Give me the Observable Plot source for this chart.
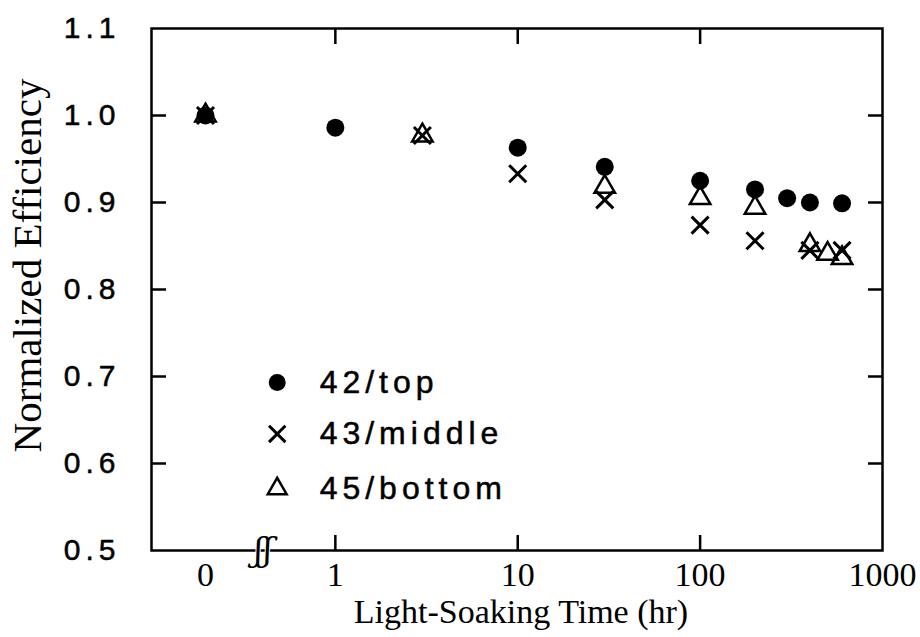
<!DOCTYPE html>
<html><head><meta charset="utf-8">
<script src="https://cdn.jsdelivr.net/npm/d3@7"></script>
<script src="https://cdn.jsdelivr.net/npm/@observablehq/plot@0.6"></script>
<style>
body{margin:0;background:#fff;}
#chart [aria-label="y-axis tick label"] text{letter-spacing:5px;}
</style></head><body><div id="chart"></div>
<script>
// ---- data ----
const seriesNames = ["42/top", "43/middle", "45/bottom"];
const topTimes = [0, 1, 10, 30, 100, 200, 300, 400, 600];
const topValues = [1.000, 0.986, 0.963, 0.941, 0.925, 0.915, 0.905, 0.900, 0.899];
const middleTimes = [0, 3, 10, 30, 100, 200, 400, 600];
const middleValues = [1.000, 0.977, 0.933, 0.903, 0.874, 0.856, 0.845, 0.845];
const bottomTimes = [0, 3, 30, 100, 200, 400, 500, 600];
const bottomValues = [1.000, 0.977, 0.918, 0.905, 0.894, 0.851, 0.841, 0.836];
const xTickTimes = [0, 1, 10, 100, 1000];
const xTickLabels = ["0", "1", "10", "100", "1000"];
const xInnerTickTimes = [1, 10, 100];
const yTicks = [0.5, 0.6, 0.7, 0.8, 0.9, 1.0, 1.1];
const yInnerTicks = [0.6, 0.7, 0.8, 0.9, 1.0];
const legendValues = [0.693, 0.634, 0.571];   // legend rows, in efficiency units
const legendSymbolTime = 0.48;                  // legend column, in hours on the log part
const legendTextTime = 0.82;

// ---- broken axis: t = 0 is placed left of a break, the rest is log10 ----
const zeroPos = -0.712, breakPos = -0.395;
const pos = t => t === 0 ? zeroPos : Math.log10(t);
const rows = (ts, vs) => ts.map((t, i) => ({x: pos(t), y: vs[i]}));

const xTickPos = xTickTimes.map(pos);
const legendRows = seriesNames.map((name, i) => ({name, y: legendValues[i]}));
const sans = "'Liberation Sans', Arial, Helvetica, sans-serif";
const serif = "'Liberation Serif', 'Times New Roman', Times, serif";

const plot = Plot.plot({
  width: 920, height: 637,
  marginLeft: 151, marginRight: 38, marginTop: 28, marginBottom: 87,
  x: {type: "linear", domain: [-1.008, 3]},
  y: {domain: [0.5, 1.1]},
  style: {background: "#fff", color: "#000"},
  marks: [
    Plot.frame({stroke: "#000", strokeWidth: 2.5}),
    // inward ticks
    Plot.axisY(yInnerTicks, {anchor: "left", tickSize: -15, tickFormat: () => "", label: null, strokeWidth: 2.5}),
    Plot.axisY(yInnerTicks, {anchor: "right", tickSize: -15, tickFormat: () => "", label: null, strokeWidth: 2.5}),
    Plot.axisX(xInnerTickTimes.map(pos), {anchor: "top", tickSize: -15, tickFormat: () => "", label: null, strokeWidth: 2.5}),
    Plot.axisX(xInnerTickTimes.map(pos), {anchor: "bottom", tickSize: -15, tickFormat: () => "", label: null, strokeWidth: 2.5}),
    // tick labels
    Plot.axisY(yTicks, {anchor: "left", tickSize: 0, tickPadding: 31, tickFormat: d => d.toFixed(1),
      fontSize: 30, fontFamily: sans, label: null, textStroke: "#000", textStrokeWidth: 0.5}),
    Plot.axisX(xTickPos, {anchor: "bottom", tickSize: 0, tickPadding: 11,
      tickFormat: d => xTickLabels[xTickPos.indexOf(d)], fontSize: 34, fontFamily: serif, label: null}),
    // axis break
    Plot.text([breakPos], {x: d => d, frameAnchor: "bottom", lineAnchor: "middle", textAnchor: "middle",
      text: () => "ʃʃ", fontSize: 34, fontStyle: "italic",
      fontFamily: "'DejaVu Serif', serif", fill: "#000", stroke: "#fff", strokeWidth: 2, paintOrder: "stroke"}),
    // axis titles
    Plot.text(["Light-Soaking Time (hr)"], {frameAnchor: "bottom", lineAnchor: "middle", textAnchor: "middle",
      dy: 62, dx: 4, fontSize: 34, fontFamily: serif, fill: "#000"}),
    Plot.text(["Normalized Efficiency"], {frameAnchor: "left", rotate: -90, textAnchor: "middle", lineAnchor: "middle",
      dx: -124, dy: -24, fontSize: 41, fontFamily: serif, fill: "#000"}),
    // data
    Plot.dot(rows(topTimes, topValues), {x: "x", y: "y", r: 9, fill: "#000"}),
    Plot.dot(rows(bottomTimes, bottomValues), {x: "x", y: "y", symbol: "triangle", r: 7.6, stroke: "#000", strokeWidth: 2.5, fill: "none"}),
    Plot.dot(rows(middleTimes, middleValues), {x: "x", y: "y", symbol: "times", r: 7.8, stroke: "#000", strokeWidth: 3}),
    // legend
    Plot.dot([legendRows[0]], {x: () => pos(legendSymbolTime), y: "y", r: 8.5, fill: "#000"}),
    Plot.dot([legendRows[1]], {x: () => pos(legendSymbolTime), y: "y", symbol: "times", r: 7.5, stroke: "#000", strokeWidth: 3}),
    Plot.dot([legendRows[2]], {x: () => pos(legendSymbolTime), y: "y", symbol: "triangle", r: 7, stroke: "#000", strokeWidth: 2.5, fill: "none"}),
    Plot.text(legendRows, {x: () => pos(legendTextTime), y: "y", text: "name", textAnchor: "start",
      fontSize: 32, fontFamily: sans, fill: "#000", stroke: "#000", strokeWidth: 0.5})
  ]
});
// widen the legend lettering like the original typeface
d3.select(plot).selectAll("text")
  .filter(function () { return seriesNames.includes(this.textContent); })
  .style("letter-spacing", "5px");
document.getElementById("chart").appendChild(plot);
</script></body></html>
